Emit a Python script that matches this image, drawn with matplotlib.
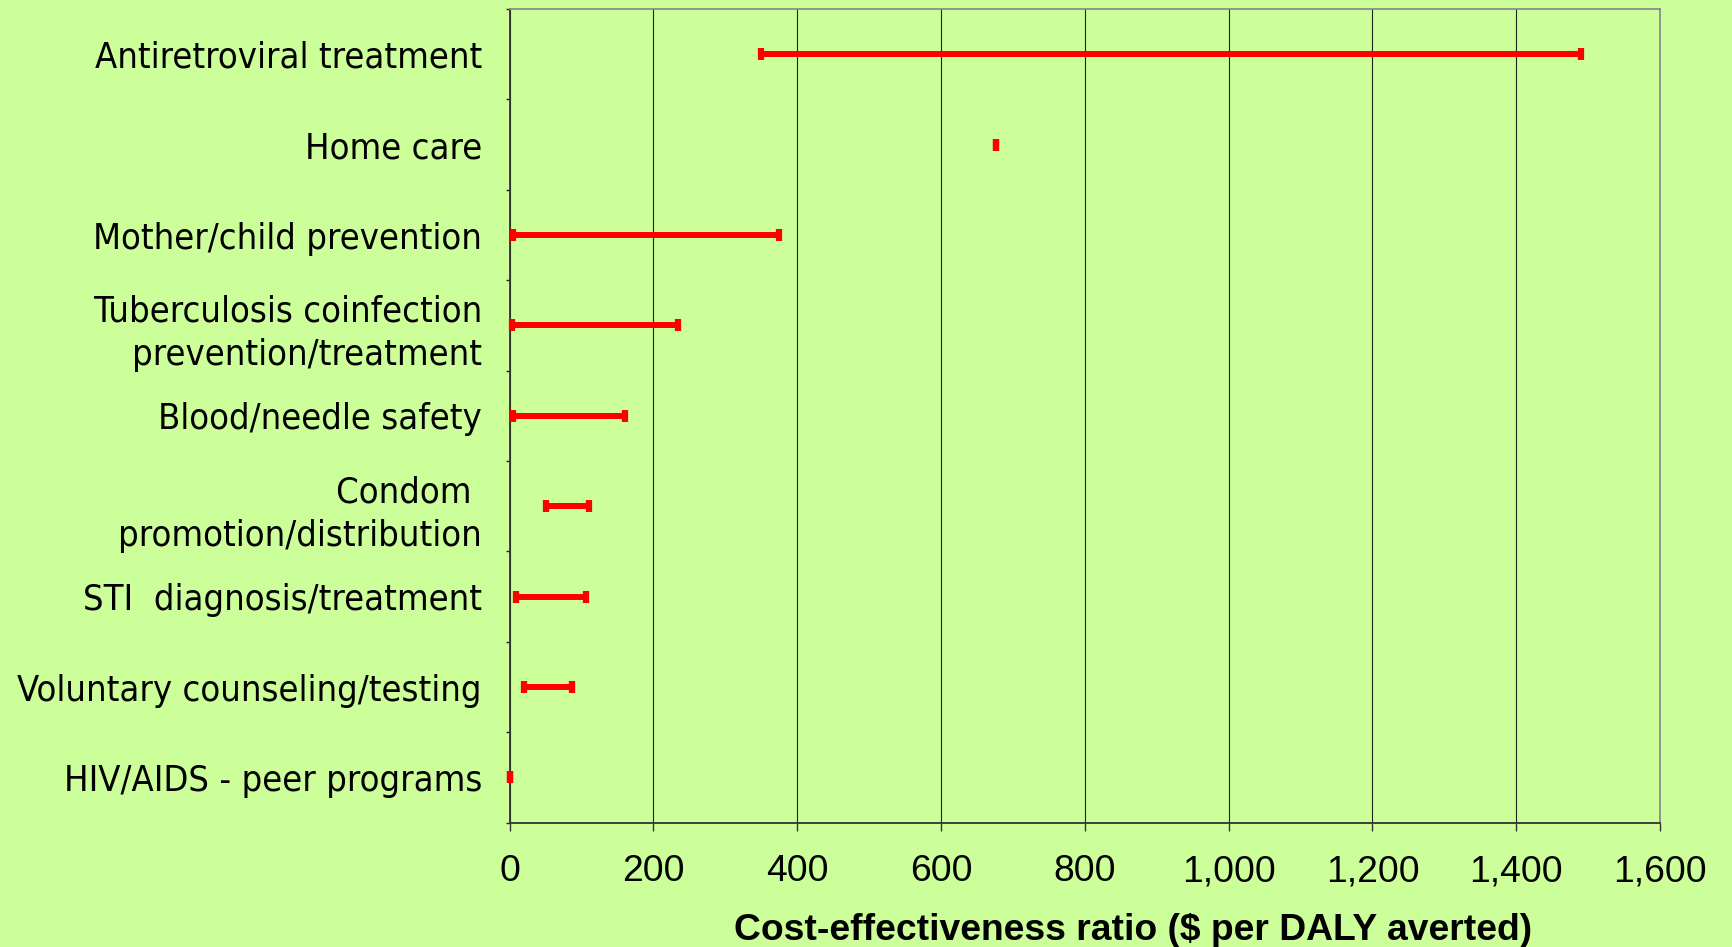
import numpy as np
import matplotlib
matplotlib.use("Agg")
from matplotlib import pyplot as plt
from matplotlib.ticker import FixedLocator, FuncFormatter

# interventions, listed top to bottom
interventions = [
    "Antiretroviral treatment",
    "Home care",
    "Mother/child prevention",
    "Tuberculosis coinfection\nprevention/treatment",
    "Blood/needle safety",
    "Condom \npromotion/distribution",
    "STI  diagnosis/treatment",
    "Voluntary counseling/testing",
    "HIV/AIDS - peer programs",
]
# cost-effectiveness range, $ per DALY averted
low = [350, 676, 5, 3, 5, 51, 9, 20, 0]
high = [1490, 676, 375, 234, 160, 111, 106, 86, 0]

bg = "#CCFF99"
red = "#FF0000"

fig = plt.figure(figsize=(17.33, 9.47), dpi=100, facecolor=bg)
ax = fig.add_axes([0.2941, 0.1313, 0.6638, 0.8592], facecolor=bg)

y = np.arange(len(interventions)) + 0.5
lo = np.array(low, dtype=float)
hi = np.array(high, dtype=float)
mid = (lo + hi) / 2
half = (hi - lo) / 2

eb = ax.errorbar(mid, y, xerr=half, fmt="none", ecolor=red, elinewidth=4.3,
                 capsize=4.5, capthick=4.5, zorder=3)
# keep the caps sitting on the y axis fully visible
for art in eb.lines[1] + eb.lines[2]:
    art.set_clip_on(False)

ax.set_xlim(0, 1600)
ax.set_ylim(len(interventions), 0)

ax.set_xticks(np.arange(0, 1601, 200))
ax.xaxis.set_major_formatter(FuncFormatter(lambda v, p: f"{int(v):,}"))
ax.grid(axis="x", color="#1e2418", linewidth=0.8, zorder=1)
ax.tick_params(axis="x", direction="out", length=5.8, width=1, color="#333333",
               pad=17)
for lab in ax.get_xticklabels():
    lab.set_family("Liberation Sans")
    lab.set_fontsize(26.8)

ax.set_yticks(y)
ax.set_yticklabels(interventions)
ax.yaxis.set_minor_locator(FixedLocator(np.arange(len(interventions) + 1)))
ax.tick_params(axis="y", which="major", length=0, pad=20)
ax.tick_params(axis="y", which="minor", direction="out", length=3, width=1,
               color="#222222")
for lab in ax.get_yticklabels():
    lab.set_family("DejaVu Sans")
    lab.set_stretch("condensed")
    lab.set_fontsize(26)
    lab.set_linespacing(1.35)
    lab.set_ha("right")

ax.set_xlabel("Cost-effectiveness ratio ($ per DALY averted)",
              family="Liberation Sans", fontweight="bold", fontsize=26.8,
              va="baseline")
ax.xaxis.set_label_coords(0.542, -0.1438)

for side in ("top", "right"):
    ax.spines[side].set_color("#8c8c8c")
    ax.spines[side].set_linewidth(1.3)
for side in ("left", "bottom"):
    ax.spines[side].set_color("#333333")
    ax.spines[side].set_linewidth(1.3)

fig.savefig("out.png", dpi=100, facecolor=bg)
